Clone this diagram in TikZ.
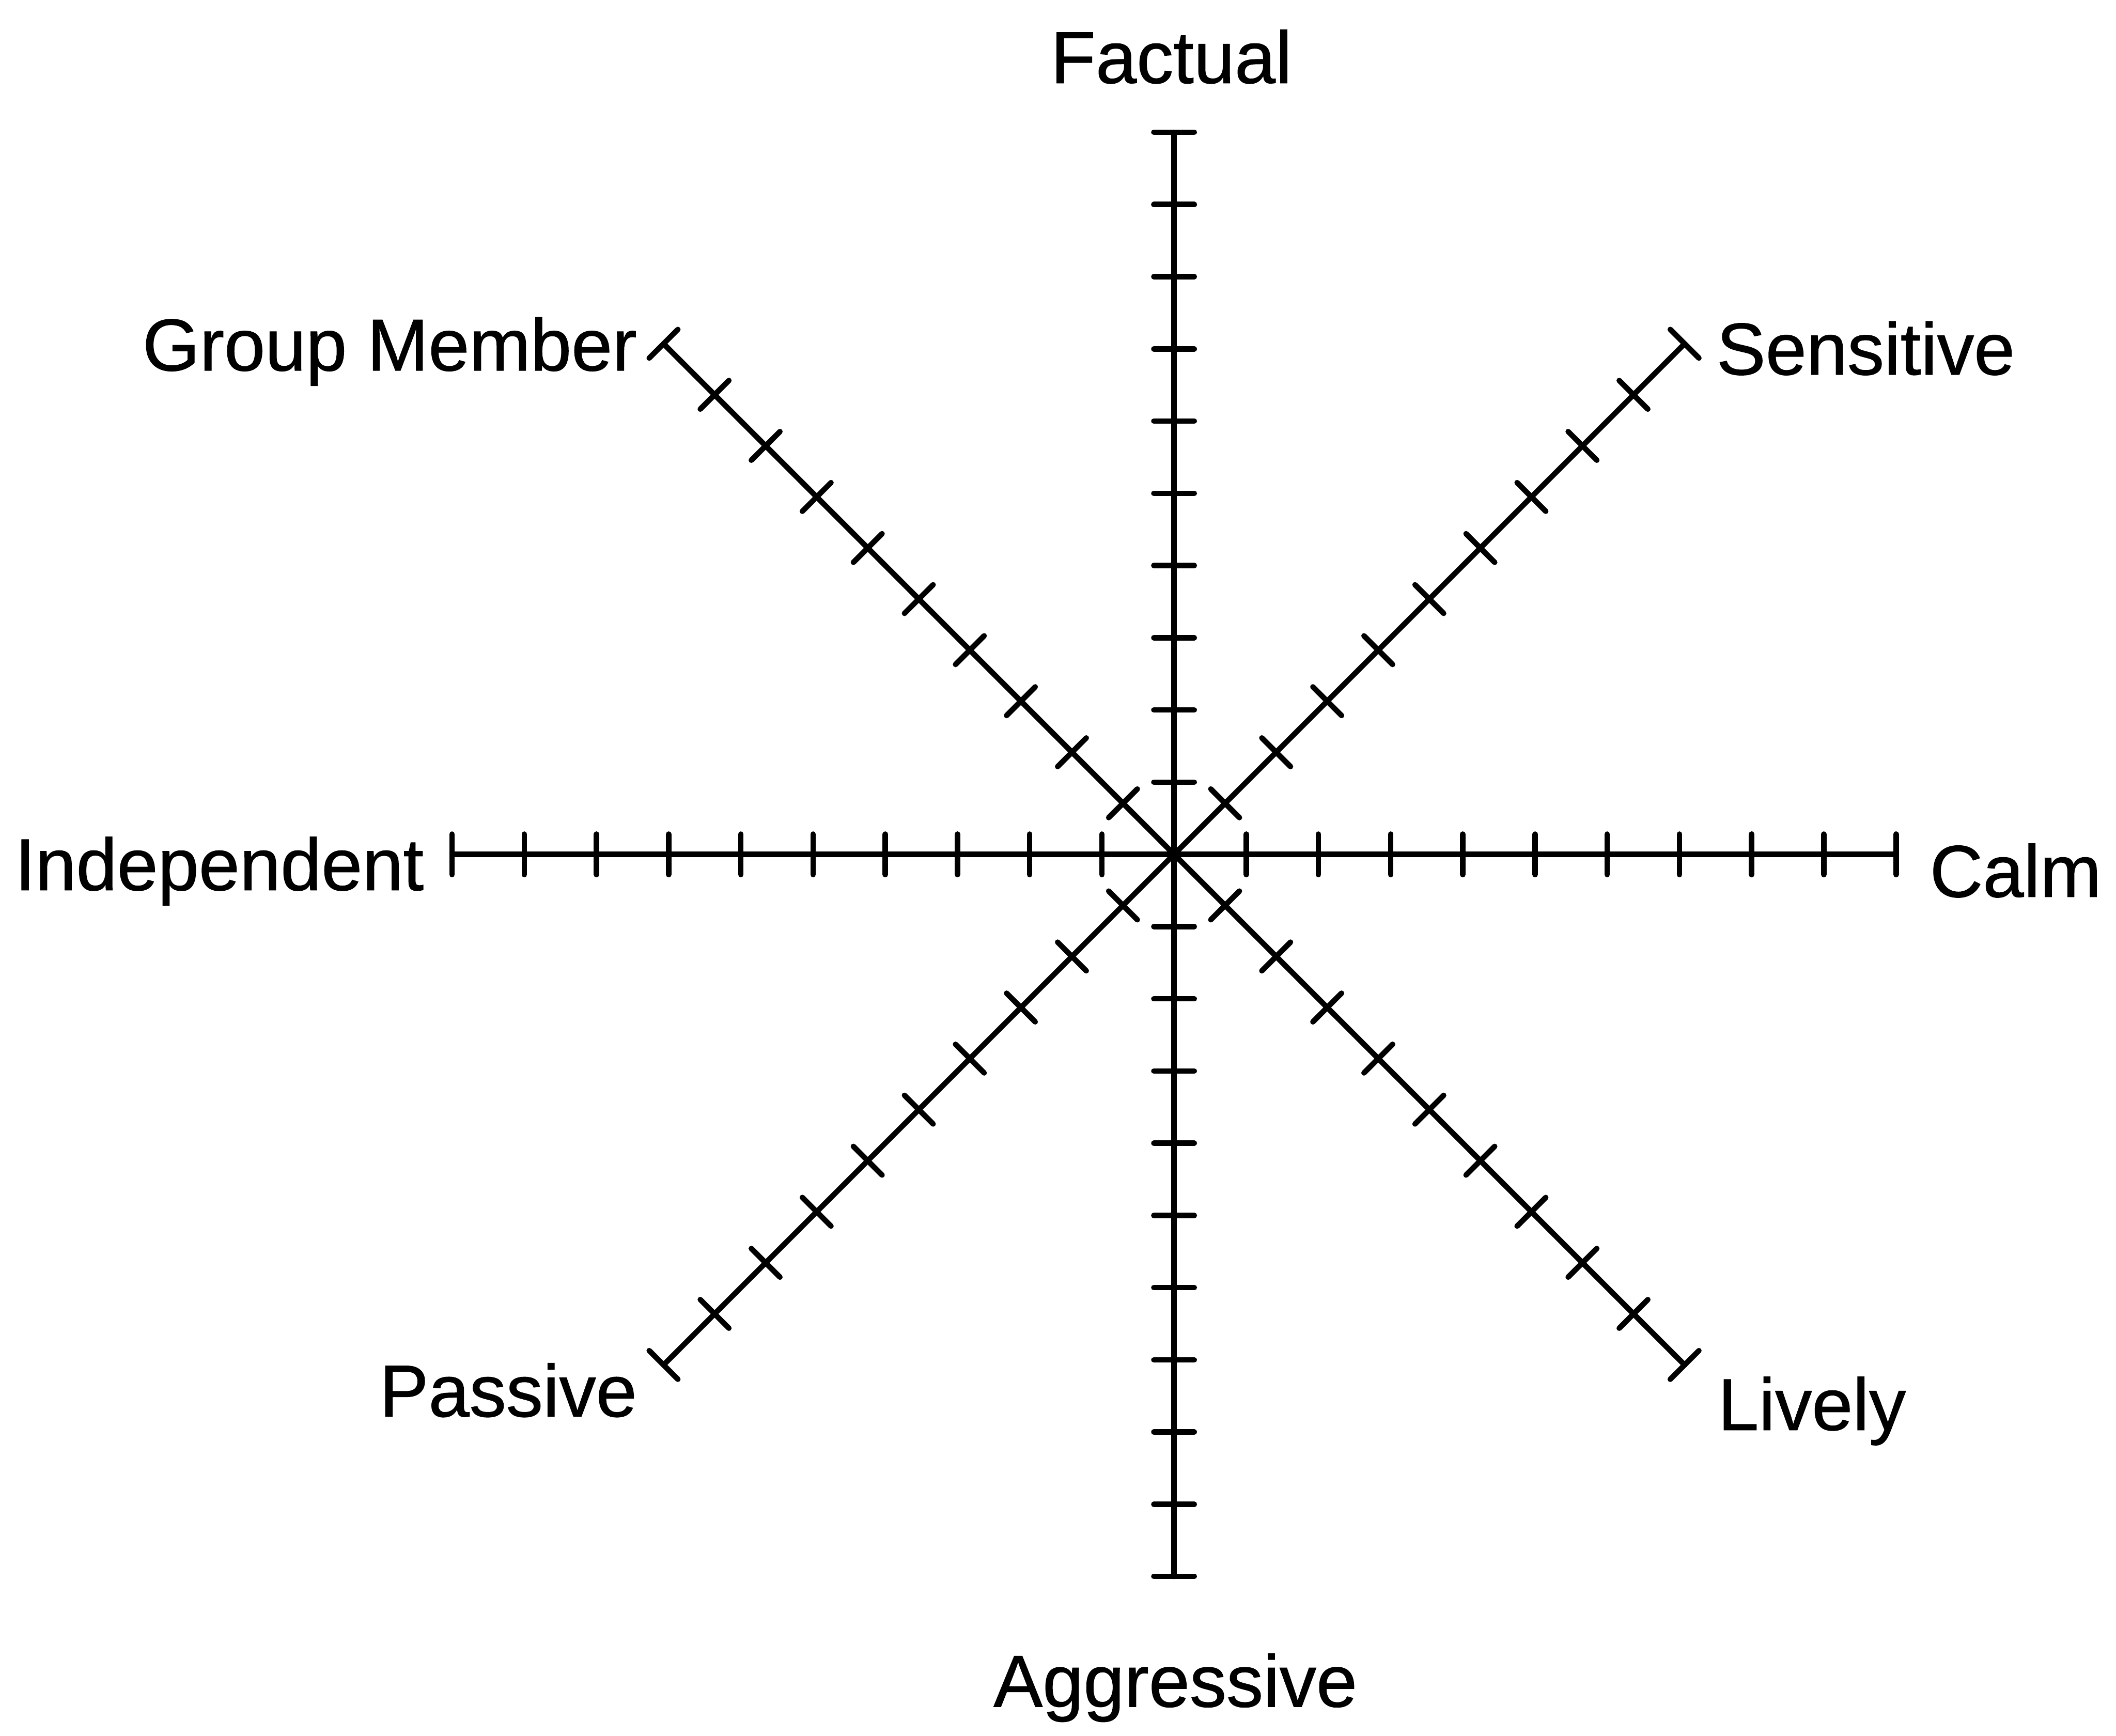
\documentclass[tikz,border=0pt]{standalone}
\usepackage{fontspec}
\setmainfont{Liberation Sans}
\newfontfamily\lblfont[FakeBold=0.8]{Liberation Sans}
\usetikzlibrary{positioning}

\begin{document}
\begin{tikzpicture}[line width=1.15pt,line cap=round,
        every node/.style={inner sep=0pt,font=\lblfont\fontsize{15.5}{18}\selectfont},
        tickmark/.style={line width=1.15pt}]
  \useasboundingbox (-8.70,-6.53) rectangle (6.98,6.33);
  \coordinate (o) at (0,0);
  % eight scales, ten marks each
  \foreach \ang/\nm in {90/fac,45/sen,0/cal,-45/liv,-90/agg,-135/pas,180/ind,135/grp}{
    \coordinate (\nm) at (\ang:5.35);
    \draw (o) -- (\nm);
    \foreach \i in {1,...,10}
      \draw[tickmark,shift={(\ang:\i*0.535)},rotate=\ang] (0,-0.15) -- (0,0.15);
  }
  % labels
  \node (lfac) [anchor=base] at (-0.02,5.715) {Factual};
  \node (lagg) [anchor=base] at (0.01,-6.315) {Aggressive};
  \node (lgrp) [anchor=base east] at (-3.96,3.585) {Group Member};
  \node (lsen) [anchor=base west] at (4.00,3.555) {Sensitive};
  \node (lind) [anchor=base east] at (-5.54,-0.265) {Independent};
  \node (lcal) [anchor=base west] at (5.58,-0.315) {Calm};
  \node (lpas) [anchor=base east] at (-3.96,-4.165) {Passive};
  \node (lliv) [anchor=base west] at (4.01,-4.265) {Lively};
\end{tikzpicture}
\end{document}
